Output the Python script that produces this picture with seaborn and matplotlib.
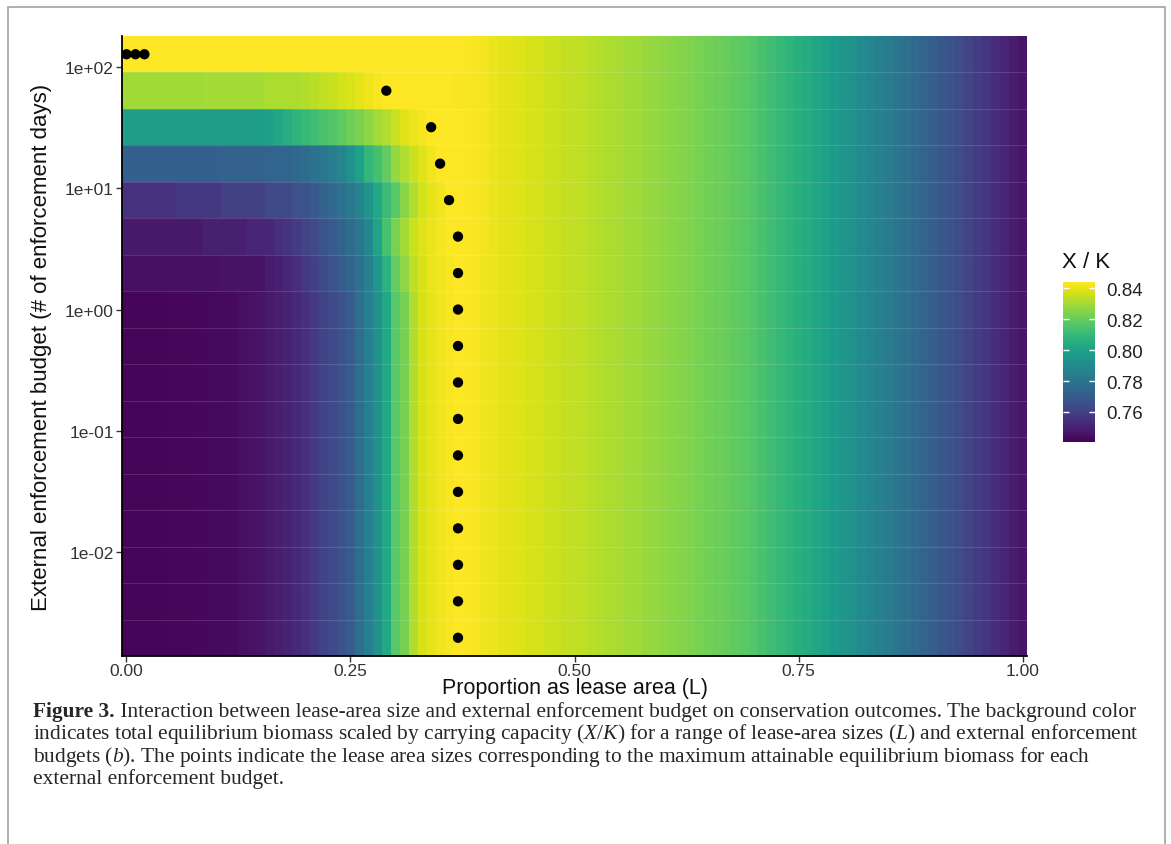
import numpy as np
import pandas as pd
import seaborn as sns
import matplotlib.pyplot as plt
from matplotlib.patches import Rectangle

# external enforcement budgets (rows) and lease-area proportions (columns)
budget = [1/512, 1/256, 1/128, 1/64, 1/32, 1/16, 1/8, 1/4, 1/2, 1, 2, 4, 8, 16, 32, 64, 128]
lease = np.round(np.arange(0, 101) / 100, 2)

# X/K for L = 0.41 ... 1.00 (same for every budget)
xk_right = [
    0.8409, 0.8399, 0.8394, 0.8389, 0.8378, 0.8373, 0.8363, 0.8358, 0.8347, 0.8342,
    0.8337, 0.8330, 0.8322, 0.8314, 0.8306, 0.8298, 0.8291, 0.8281, 0.8273, 0.8265,
    0.8257, 0.8247, 0.8239, 0.8229, 0.8219, 0.8208, 0.8198, 0.8188, 0.8175, 0.8162,
    0.8141, 0.8121, 0.8100, 0.8080, 0.8059, 0.8038, 0.8018, 0.7992, 0.7971, 0.7946,
    0.7925, 0.7899, 0.7879, 0.7853, 0.7832, 0.7807, 0.7786, 0.7760, 0.7740, 0.7714,
    0.7688, 0.7668, 0.7642, 0.7616, 0.7590, 0.7565, 0.7539, 0.7513, 0.7487, 0.7462,
]

# X/K for L = 0.00 ... 0.40, per budget
xk_left_low = [  # budgets <= 1
    0.7418, 0.7419, 0.7420, 0.7421, 0.7422, 0.7423, 0.7424, 0.7425, 0.7427, 0.7429,
    0.7431, 0.7434, 0.7438, 0.7443, 0.7451, 0.7462, 0.7477, 0.7492, 0.7503, 0.7523,
    0.7544, 0.7580, 0.7611, 0.7637, 0.7668, 0.7698, 0.7781, 0.7843, 0.7925, 0.8028,
    0.8172, 0.8224, 0.8316, 0.8378, 0.8399, 0.8419, 0.8430, 0.8440, 0.8435, 0.8430,
    0.8419,
]
xk_left_2 = [0.7448] * 11 + [0.7458] * 5 + [
    0.7480, 0.7495, 0.7515, 0.7540, 0.7572, 0.7604, 0.7635, 0.7666, 0.7697, 0.7740,
    0.7791, 0.7853, 0.7946, 0.8069, 0.8193, 0.8265, 0.8337, 0.8378, 0.8404, 0.8419,
    0.8430, 0.8441, 0.8436, 0.8430, 0.8419,
]
xk_left_4 = [0.7475] * 9 + [0.7495] * 5 + [0.7518] * 3 + [
    0.7544, 0.7565, 0.7585, 0.7616, 0.7637, 0.7668, 0.7698, 0.7729, 0.7771, 0.7812,
    0.7884, 0.8007, 0.8141, 0.8234, 0.8296, 0.8358, 0.8389, 0.8409, 0.8425, 0.8435,
    0.8442, 0.8437, 0.8431, 0.8420,
]
xk_left_8 = [0.7554] * 6 + [0.7575] * 5 + [0.7606] * 5 + [0.7637] * 3 + [0.7668] * 2 + [
    0.7698, 0.7729, 0.7760, 0.7791, 0.7822, 0.7874, 0.7946, 0.8028, 0.8110, 0.8172,
    0.8255, 0.8316, 0.8368, 0.8399, 0.8419, 0.8443, 0.8440, 0.8436, 0.8430, 0.8420,
]
xk_left_16 = [0.7719] * 11 + [0.7729] * 5 + [0.7740] * 3 + [
    0.7750, 0.7771, 0.7791, 0.7812, 0.7843, 0.7874, 0.7925, 0.7997, 0.8090, 0.8131,
    0.8193, 0.8275, 0.8316, 0.8358, 0.8389, 0.8419, 0.8444, 0.8441, 0.8438, 0.8434,
    0.8429, 0.8420,
]
xk_left_32 = [0.7977] * 16 + [
    0.7997, 0.8018, 0.8049, 0.8080, 0.8100, 0.8121, 0.8141, 0.8162, 0.8183, 0.8213,
    0.8234, 0.8265, 0.8296, 0.8316, 0.8358, 0.8389, 0.8409, 0.8425, 0.8445, 0.8443,
    0.8440, 0.8437, 0.8433, 0.8428, 0.8420,
]
xk_left_64 = [0.8291] * 9 + [0.8301] * 7 + [0.8311] * 4 + [
    0.8322, 0.8332, 0.8342, 0.8352, 0.8368, 0.8383, 0.8399, 0.8414, 0.8430, 0.8446,
    0.8444, 0.8442, 0.8440, 0.8438, 0.8436, 0.8434, 0.8432, 0.8430, 0.8428, 0.8425,
    0.8420,
]
xk_left_128 = [0.8450] * 3 + [0.8449] * 8 + [0.8447] * 10 + [0.8444] * 10 + \
    [0.8440] * 5 + [0.8436] * 3 + [0.8430, 0.8422]

left_rows = [xk_left_low] * 10 + [xk_left_2, xk_left_4, xk_left_8, xk_left_16,
                                  xk_left_32, xk_left_64, xk_left_128]
grid = np.array([row + xk_right for row in left_rows])

df = pd.DataFrame({
    'budget': np.repeat(budget, len(lease)),
    'lease': np.tile(lease, len(budget)),
    'xk': grid.ravel(),
})
best = df[df['xk'] == df.groupby('budget')['xk'].transform('max')]

sns.set_theme(style='white')
plt.rcParams['font.family'] = ['Liberation Sans', 'DejaVu Sans']
plt.rcParams['mathtext.fontset'] = 'custom'
plt.rcParams['mathtext.it'] = 'Liberation Serif:italic'
plt.rcParams['mathtext.rm'] = 'Liberation Serif'

W, H = 1171, 845
fig = plt.figure(figsize=(W / 100, H / 100), dpi=100)
ax = fig.add_axes([122 / W, 1 - 657 / H, 905 / W, 620 / H])

x_edges = np.append(lease - 0.005, lease[-1] + 0.005)
y_edges = np.append(np.array(budget) / np.sqrt(2), budget[-1] * np.sqrt(2))
mesh = ax.pcolormesh(x_edges, y_edges, grid, cmap='viridis',
                     vmin=0.7406, vmax=0.8440, shading='flat')
ax.hlines(y_edges[1:-1], x_edges[0], x_edges[-1], color='white', alpha=0.13, lw=0.8)

sns.scatterplot(data=best, x='lease', y='budget', color='black', s=55,
                edgecolor='none', ax=ax, zorder=5)

ax.set_yscale('log')
ax.set_xlim(x_edges[0], x_edges[-1])
ax.set_ylim(y_edges[0], y_edges[-1])
ax.set_xticks([0, 0.25, 0.5, 0.75, 1.0])
ax.set_xticklabels(['0.00', '0.25', '0.50', '0.75', '1.00'])
yt = [1e-2, 1e-1, 1e0, 1e1, 1e2]
ax.set_yticks(yt)
ax.set_yticklabels([f'{v:.0e}' for v in yt])
ax.minorticks_off()
ax.tick_params(axis='both', direction='out', length=4, width=1, color='#333333',
               labelsize=12.5, labelcolor='#333333', left=True, bottom=True, pad=2)
ax.tick_params(axis='x', pad=1)
for side in ['top', 'right']:
    ax.spines[side].set_visible(False)
for side in ['left', 'bottom']:
    ax.spines[side].set_color('black')
    ax.spines[side].set_linewidth(1.3)
ax.set_xlabel('Proportion as lease area (L)', fontsize=15.5, color='#111111', va='center')
ax.xaxis.set_label_coords(0.5, -32 / 620)
ax.set_ylabel('External enforcement budget (# of enforcement days)', fontsize=16,
              color='#111111', va='center')
ax.yaxis.set_label_coords(-80 / 905, 0.5)

# colour bar
cax = fig.add_axes([1063 / W, 1 - 443 / H, 32 / W, 160 / H])
cb = fig.colorbar(mesh, cax=cax)
cb.outline.set_visible(False)
cticks = [0.76, 0.78, 0.80, 0.82, 0.84]
cb.set_ticks(cticks)
cb.set_ticklabels([f'{v:.2f}' for v in cticks])
cax.tick_params(length=0, labelsize=13.5, labelcolor='#222222', pad=8)
cax.hlines(cticks, 0, 0.2, color='white', lw=1)
cax.hlines(cticks, 0.8, 1, color='white', lw=1)
fig.text(1062 / W, 1 - 263 / H, 'X / K', fontsize=16, color='#111111', va='center')

# caption
cap_font = ['Liberation Serif', 'DejaVu Serif']
lines = [
    ' Interaction between lease-area size and external enforcement budget on conservation outcomes. The background color',
    'indicates total equilibrium biomass scaled by carrying capacity ($X/K$) for a range of lease-area sizes ($L$) and external enforcement',
    'budgets ($b$). The points indicate the lease area sizes corresponding to the maximum attainable equilibrium biomass for each',
    'external enforcement budget.',
]
baselines = [717, 739, 762, 784]
renderer = fig.canvas.get_renderer()
probe = fig.text(0, 0, lines[1], fontsize=13, family=cap_font)
w = probe.get_window_extent(renderer).width
probe.remove()
fs = 13 * 1106 / w
bold = fig.text(33 / W, 1 - baselines[0] / H, 'Figure 3.', fontsize=fs,
                family=cap_font, weight='bold', va='baseline')
bw = bold.get_window_extent(renderer).width
fig.text((33 + bw) / W, 1 - baselines[0] / H, lines[0], fontsize=fs,
         family=cap_font, va='baseline')
for txt, yb in zip(lines[1:], baselines[1:]):
    fig.text(33 / W, 1 - yb / H, txt, fontsize=fs, family=cap_font, va='baseline')

# frame around the figure
fig.patches.append(Rectangle((8 / W, -0.05), 1157 / W, 1.05 - 8 / H, fill=False,
                             edgecolor='#A8A8A8', lw=1.3, transform=fig.transFigure))

fig.savefig('out.png', dpi=100)
